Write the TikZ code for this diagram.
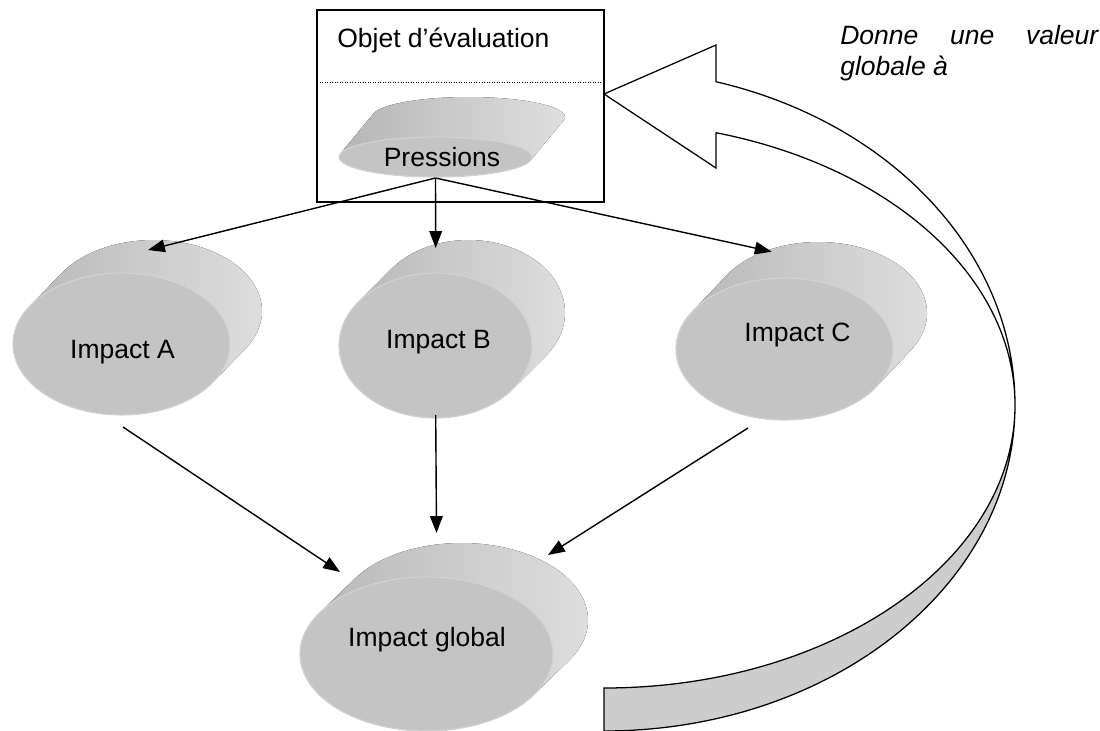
\documentclass[tikz,border=0pt]{standalone}
\usepackage{fontspec}
\setmainfont{Liberation Sans}
\usepackage{xcolor}
\usepackage{tikz}
\usetikzlibrary{arrows.meta}

\definecolor{cylfront}{HTML}{C4C4C4}
\definecolor{cylrim}{HTML}{D2D2D2}
\definecolor{cyldark}{HTML}{9C9C9C}
\definecolor{cylmid}{HTML}{B4B4B4}
\definecolor{cyllight}{HTML}{E0E0E0}
\definecolor{bandgray}{HTML}{CDCDCD}

\tikzset{
  lbl/.style={anchor=base, inner sep=0pt, font=\fontsize{18.85}{22}\selectfont},
  note/.style={anchor=base west, inner sep=0pt, font=\fontsize{18.85}{22}\selectfont\itshape},
  side/.style={left color=cylmid, middle color=cyldark, right color=cyllight},
  face/.style={fill=cylfront, draw=cylrim, line width=0.8pt},
  link/.style={line width=1pt, -{Triangle[length=12pt, width=9pt]}}
}

% extruded ellipse: centre x, centre y, x radius, y radius, shift x, shift y
\newcommand{\cyl}[6]{%
  \pgfmathsetmacro{\tz}{atan((#4*(#5))/(#3*abs(#6)))}%
  \fill [side] ({#1+(#5)}, {#2+(#6)}) ++(\tz:#3 and #4)
    arc [start angle=\tz, end angle=\tz-180, x radius=#3, y radius=#4]
    -- ++({-(#5)}, {-(#6)})
    arc [start angle=\tz-180, end angle=\tz-360, x radius=#3, y radius=#4]
    -- cycle;
  \draw [face] (#1, #2) ellipse [x radius=#3, y radius=#4];
}

\begin{document}
\begin{tikzpicture}[x=0.025cm, y=-0.025cm]
\useasboundingbox (0,0) rectangle (1100,731);
% return arrow
\fill [bandgray] (1015,405) arc [start angle=0, end angle=90, x radius=411, y radius=326]
  -- (604,688) arc [start angle=90, end angle=0, x radius=411, y radius=283] -- cycle;
\draw [line width=0.9pt] (715.9,132.7) -- (716,168) -- (604,94) -- (716,45) -- (715.9,81.7)
  arc [start angle=-74.2, end angle=0, x radius=411, y radius=336]
  arc [start angle=0, end angle=90, x radius=411, y radius=326]
  -- (604,688)
  arc [start angle=90, end angle=0, x radius=411, y radius=283]
  arc [start angle=0, end angle=-74.2, x radius=411, y radius=283]
  -- cycle;
\node [note] (note1) at (840,44) {\makebox[6.45cm][s]{Donne une valeur}};
\node [note] (note2) at (840,75) {globale à};
% box
\node [draw, line width=1pt, minimum width=7.175cm, minimum height=4.8cm, inner sep=0pt] (box) at (460.5,106) {};
\draw [line width=0.6pt, dash pattern=on 0.6pt off 1.2pt] (317,82) -- (604,82);
\node [lbl, anchor=base west] (title) at (337,47.3) {Objet d’évaluation};
% shapes
\cyl{435.5}{157}{96.5}{20}{33}{-40}
\cyl{121.5}{344}{108.5}{71}{32}{-33}
\cyl{435.5}{345.5}{96.5}{72.5}{33}{-33}
\cyl{784.5}{349}{108.5}{71}{34}{-36}
\cyl{426.5}{654}{126.5}{77}{35}{-34}
\node [lbl] (Pr) at (442,166.7) {Pressions};
\node [lbl] (ImpA) at (122.5,358) {Impact A};
\node [lbl] (ImpB) at (438.5,348.3) {Impact B};
\node [lbl] (ImpC) at (797.5,341.7) {Impact C};
\node [lbl] (ImpG) at (427,646.7) {Impact global};
% arrow ends
\coordinate (Pr-out) at (435.5,178);
\coordinate (ImpA-in) at (148,250);
\coordinate (ImpB-in) at (435.7,248);
\coordinate (ImpC-in) at (771.7,251.7);
\coordinate (ImpA-out) at (123,427);
\coordinate (ImpB-out) at (435.7,415);
\coordinate (ImpC-out) at (748,428);
\coordinate (ImpG-inA) at (340,572);
\coordinate (ImpG-inB) at (436.5,533);
\coordinate (ImpG-inC) at (548,555);
\draw [link] (Pr-out) -- (ImpA-in);
\draw [link] (Pr-out) -- (ImpB-in);
\draw [link] (Pr-out) -- (ImpC-in);
\draw [link] (ImpA-out) -- (ImpG-inA);
\draw [link] (ImpB-out) -- (ImpG-inB);
\draw [link] (ImpC-out) -- (ImpG-inC);
\end{tikzpicture}
\end{document}
